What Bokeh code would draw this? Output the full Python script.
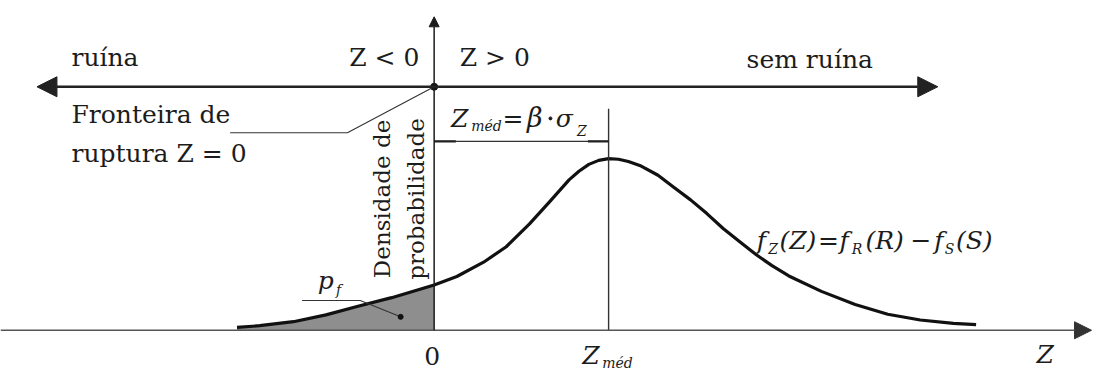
import math
from bokeh.plotting import figure
from bokeh.models import Range1d, Arrow, NormalHead
from bokeh.core.properties import value
from bokeh.embed import file_html
from bokeh.resources import INLINE

# ---- data: density of the safety margin Z ----
z_values = [-3.39, -3.00, -2.42, -1.86, -1.31, -0.73, 0.00, 0.39, 0.85, 1.24, 1.64,
            1.98, 2.32, 2.49, 2.66, 2.83, 3.00, 3.17, 3.34, 3.56, 3.85, 4.12, 4.41, 4.69,
            4.97, 5.25, 5.54, 5.81, 6.10, 6.66, 7.24, 7.80, 8.36, 8.93, 9.32]
density = [0.005, 0.008, 0.015, 0.027, 0.042, 0.057, 0.079, 0.094, 0.119, 0.146, 0.186,
           0.224, 0.263, 0.278, 0.290, 0.297, 0.300, 0.299, 0.295, 0.287, 0.271, 0.250,
           0.228, 0.204, 0.178, 0.155, 0.132, 0.113, 0.095, 0.068, 0.045, 0.028, 0.018,
           0.012, 0.010]
z_boundary = 0.0
z_mean = 3.0

region_labels = ["ruína", "Z < 0", "Z > 0", "sem ruína"]
boundary_labels = ["Fronteira de", "ruptura Z = 0"]
axis_labels = ["Densidade de", "probabilidade"]
tick_labels = ["0"]

# ---- layout: reference pixel -> data units ----
X0, SX = 440.0, 59.0       # pixel of Z = 0, pixels per unit of Z
Y0, SY = 344.0, 596.7      # pixel of density 0, pixels per unit of density


def X(px):
    return (px - X0) / SX


def Y(py):
    return (Y0 - py) / SY


W, H = 1093, 371
p = figure(width=W, height=H, output_backend="svg", toolbar_location=None,
           x_range=Range1d(X(0), X(1109)), y_range=Range1d(Y(387), Y(0)),
           min_border=0, x_axis_location=None, y_axis_location=None,
           background_fill_color="white", border_fill_color="white")
p.outline_line_color = None
p.xgrid.visible = False
p.ygrid.visible = False

INK = "#1c1c1c"
SERIF = value("DejaVu Serif")


def txt(px, base_y, s, size, italic=False, align="left"):
    # base_y: baseline position in reference pixels; drawn with a middle baseline
    p.text(x=[X(px)], y=[Y(base_y - 0.35 * size)], text=[s], text_font=SERIF,
           text_font_size=value(f"{size}px"),
           text_font_style="italic" if italic else "normal",
           text_align=align, text_baseline="middle", text_color=INK)


def vtxt(px, mid_y, s, size):
    p.text(x=[X(px)], y=[Y(mid_y)], text=[s], text_font=SERIF,
           text_font_size=value(f"{size}px"), angle=math.pi / 2,
           text_align="center", text_baseline="middle", text_color=INK)


# failure probability area (Z <= 0)
zs = [z for z in z_values if z <= z_boundary]
fs = [f for z, f in zip(z_values, density) if z <= z_boundary]
p.varea(x=zs, y1=[0] * len(zs), y2=fs, fill_color="#8e8e8e", fill_alpha=1.0)

# Z axis (bottom)
p.add_layout(Arrow(end=NormalHead(size=17, fill_color="#333", line_color="#333"),
                   x_start=X(0), y_start=0, x_end=X(1107), y_end=0,
                   line_color="#555", line_width=1.6))

# vertical axis at Z = 0
p.add_layout(Arrow(end=NormalHead(size=10, fill_color=INK, line_color=INK),
                   x_start=z_boundary, y_start=0, x_end=z_boundary, y_end=Y(17),
                   line_color=INK, line_width=1.5))

# top direction arrows
for x_end in (37, 951):
    p.add_layout(Arrow(end=NormalHead(size=20, fill_color="#222", line_color="#222"),
                       x_start=z_boundary, y_start=Y(90), x_end=X(x_end), y_end=Y(90),
                       line_color="#222", line_width=2.6))
p.scatter(x=[z_boundary], y=[Y(90)], size=7, color="#111")

# density curve
p.line(x=z_values, y=density, line_color="#111", line_width=3.2, line_join="round")

# mean line and dimension line
p.line(x=[z_mean, z_mean], y=[0, Y(113)], line_color="#333", line_width=1.4)
p.line(x=[z_boundary, z_mean], y=[Y(147), Y(147)], line_color="#333", line_width=1.2)
p.line(x=[z_boundary, X(462)], y=[Y(147), Y(147)], line_color="#222", line_width=2.4)
p.line(x=[X(596), z_mean], y=[Y(147), Y(147)], line_color="#222", line_width=2.4)

# leader for "Fronteira de ruptura"
p.line(x=[X(233), X(352), z_boundary], y=[Y(138), Y(138), Y(90)],
       line_color="#333", line_width=1.1)

# leader for p_f
p.line(x=[X(306), X(365), X(406)], y=[Y(313), Y(313), Y(330)],
       line_color="#333", line_width=1.1)
p.scatter(x=[X(406)], y=[Y(330)], size=5, color="#111")

# ---- texts ----
txt(72, 68, region_labels[0], 25)
txt(425, 68, region_labels[1], 25, align="right")
txt(466, 68, region_labels[2], 25)
txt(757, 70, region_labels[3], 25)
txt(72, 128, boundary_labels[0], 25)
txt(72, 168, boundary_labels[1], 25)
vtxt(387, 207, axis_labels[0], 23)
vtxt(422, 207, axis_labels[1], 23)
txt(X0 - 2, 380, tick_labels[0], 25, align="center")

# Z_med = beta . sigma_Z
txt(466, 132, "Z", 25, italic=True, align="center")
txt(493, 136, "méd", 14, italic=True, align="center")
txt(520, 132, "=", 25, align="center")
txt(542, 132, "β", 27, italic=True, align="center")
p.scatter(x=[X(558)], y=[Y(123)], size=3, color=INK)
txt(572, 132, "σ", 25, italic=True, align="center")
txt(590, 141, "Z", 14, italic=True, align="center")

# f_Z(Z) = f_R(R) - f_S(S)
txt(772, 259, "f", 25, italic=True, align="center")
txt(784, 264, "Z", 14, italic=True, align="center")
txt(809, 259, "(Z)", 25, italic=True, align="center")
txt(840, 259, "=", 25, align="center")
txt(856, 259, "f", 25, italic=True, align="center")
txt(869, 264, "R", 14, italic=True, align="center")
txt(897, 259, "(R)", 25, italic=True, align="center")
txt(934, 259, "−", 25, align="center")
txt(952, 259, "f", 25, italic=True, align="center")
txt(963, 264, "S", 14, italic=True, align="center")
txt(988, 259, "(S)", 25, italic=True, align="center")

# p_f
txt(330, 301, "p", 25, italic=True, align="center")
txt(343, 307, "f", 14, italic=True, align="center")

# bottom labels
txt(599, 379, "Z", 25, italic=True, align="center")
txt(626, 383, "méd", 14, italic=True, align="center")
txt(1060, 378, "Z", 25, italic=True, align="center")

open("out.html", "w").write(file_html(p, INLINE))
